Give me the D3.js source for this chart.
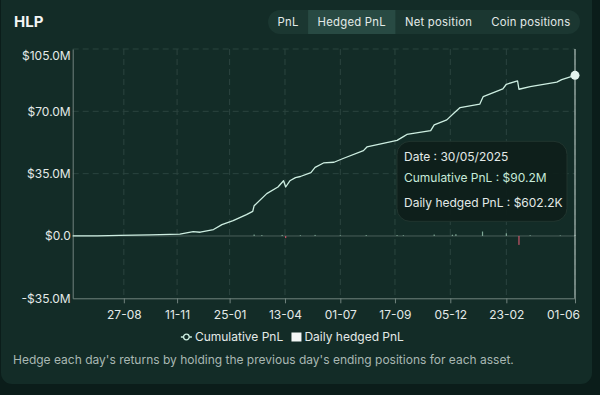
<!DOCTYPE html>
<html>
<head>
<meta charset="utf-8">
<script src="https://cdn.jsdelivr.net/npm/d3@7"></script>
<style>
  html, body { margin: 0; padding: 0; background: #0b1d1a; }
  svg { display: block; font-family: Inter, "Noto Sans", sans-serif; }
</style>
</head>
<body>
<svg id="chart" width="600" height="395"></svg>
<script>
// cumulative hedged pnl, $M
const cumDates = ['2023-06-15', '2023-07-20', '2023-08-21', '2023-10-03', '2023-11-15', '2023-12-04',
    '2023-12-14', '2024-01-02', '2024-01-14', '2024-01-30', '2024-02-18', '2024-02-27', '2024-02-29',
    '2024-03-18', '2024-04-03', '2024-04-11', '2024-04-14', '2024-04-20', '2024-04-28', '2024-05-05',
    '2024-05-20', '2024-05-26', '2024-06-07', '2024-06-22', '2024-07-05', '2024-08-03', '2024-08-08',
    '2024-09-20', '2024-09-29', '2024-10-04', '2024-11-07', '2024-11-12', '2024-11-30', '2024-12-10',
    '2024-12-19', '2025-01-16', '2025-01-21', '2025-02-18', '2025-02-23', '2025-03-11', '2025-03-13',
    '2025-03-29', '2025-05-06', '2025-05-13', '2025-06-01']
const cumValues = [0, 0.1, 0.3, 0.6, 1.0, 2.4,
    2.1, 3.6, 6.4, 8.6, 12.0, 13.8, 17.0,
    23.8, 27.5, 31.0, 27.5, 31.0, 32.8, 33.4,
    35.6, 38.5, 41.0, 41.4, 43.5, 47.9, 50.0,
    53.7, 55.8, 57.0, 59.2, 62.4, 65.2, 68.9,
    72.1, 74.0, 78.3, 82.6, 85.2, 87.1, 82.4,
    83.9, 86.4, 87.8, 90.2]

// daily hedged pnl, $M (only the visible ones)
const barDates = ['2024-02-29', '2024-03-11', '2024-04-09', '2024-04-14', '2024-05-05', '2024-05-26',
    '2024-07-01', '2024-08-07', '2024-09-20', '2024-09-29', '2024-11-12', '2024-12-08', '2024-12-13',
    '2025-01-20', '2025-02-23', '2025-03-13', '2025-03-29', '2025-05-11', '2025-06-01']
const barValues = [0.8, 0.5, 0.6, -1.2, 0.4, 0.6,
    0.4, 0.5, 0.5, 0.4, 0.8, 0.7, 1.0,
    2.5, 1.5, -5.0, 0.4, 0.3, 0.6]

const xTickDates = ['2023-08-27', '2023-11-11', '2024-01-25', '2024-04-13', '2024-07-01',
    '2024-09-17', '2024-12-05', '2025-02-23', '2025-06-01']
const yTickValues = [-35, 0, 35, 70, 105]
const tabs = ['PnL', 'Hedged PnL', 'Net position', 'Coin positions']
const activeTab = 'Hedged PnL'
const tooltipLines = ['Date : 30/05/2025', 'Cumulative PnL : $90.2M', 'Daily hedged PnL : $602.2K']
const footnote = "Hedge each day's returns by holding the previous day's ending positions for each asset."

const colours = {
    panel: '#132c27',
    line: '#cdeee1',
    grid: '#2b443f',
    axis: '#71837e',
    text: '#e3eae8',
    muted: '#a9b8b3',
    pos: '#7fa896',
    neg: '#c8566a'
}

const parse = d3.utcParse('%Y-%m-%d')
const fmtTick = d3.utcFormat('%d-%m')
const cum = cumDates.map((d, i) => ({date: parse(d), value: cumValues[i]}))
const bars = barDates.map((d, i) => ({date: parse(d), value: barValues[i]}))

const svg = d3.select('#chart')

svg.append('rect')
    .attr('x', 1).attr('y', -12)
    .attr('width', 591).attr('height', 396)
    .attr('rx', 11)
    .attr('fill', colours.panel)

svg.append('text')
    .attr('x', 14).attr('y', 27)
    .attr('fill', '#f2f5f4')
    .attr('font-size', 15).attr('font-weight', 700)
    .text('HLP')

// tab buttons
const tabG = svg.append('g')
const pill = tabG.append('rect')
const tabItems = tabG.selectAll('g.tab')
    .data(tabs)
    .join('g')
    .attr('class', 'tab')
const tabBg = tabItems.append('rect')
const tabText = tabItems.append('text')
    .attr('font-size', 11.3)
    .attr('letter-spacing', 0.25)
    .attr('fill', colours.text)
    .attr('text-anchor', 'middle')
    .attr('dy', '0.35em')
    .text(d => d)

const pad = 9.5
const widths = tabText.nodes().map(n => n.getComputedTextLength() + 2 * pad)
const tabRight = 580
let tx = tabRight - d3.sum(widths)
const tabLeft = tx
tabItems.each(function(d, i) {
    d3.select(this).attr('transform', `translate(${tx},10)`)
    tx += widths[i]
})
tabBg.attr('width', (d, i) => widths[i]).attr('height', 24)
    .attr('fill', d => d == activeTab ? '#284a43' : 'none')
tabText.attr('x', (d, i) => widths[i] / 2).attr('y', 12)
pill.attr('x', tabLeft).attr('y', 10)
    .attr('width', tabRight - tabLeft).attr('height', 24)
    .attr('rx', 12)
    .attr('fill', '#1b3731')

// plot
const margin = {left: 72.7, right: 575, top: 49, bottom: 298.3}
const xScale = d3.scaleUtc()
    .domain([cum[0].date, cum[cum.length - 1].date])
    .range([margin.left, margin.right])
const yScale = d3.scaleLinear()
    .domain([-35, 105])
    .range([margin.bottom, margin.top])

const grid = svg.append('g')
grid.selectAll('line.hg')
    .data(yTickValues.filter(v => v > -35))
    .join('line')
    .attr('class', 'hg')
    .attr('x1', margin.left).attr('x2', margin.right)
    .attr('y1', d => yScale(d)).attr('y2', d => yScale(d))
    .attr('stroke', d => d == 0 ? '#4a5f5a' : colours.grid)
    .attr('stroke-dasharray', d => d == 0 ? null : '6 4')
grid.selectAll('line.vg')
    .data(xTickDates.map(parse))
    .join('line')
    .attr('class', 'vg')
    .attr('x1', d => xScale(d)).attr('x2', d => xScale(d))
    .attr('y1', margin.top).attr('y2', margin.bottom)
    .attr('stroke', colours.grid)
    .attr('stroke-dasharray', '6 4')

// axes
const xAxis = svg.append('g')
    .attr('transform', `translate(0,${margin.bottom})`)
    .call(d3.axisBottom(xScale)
        .tickValues(xTickDates.map(parse))
        .tickFormat(fmtTick)
        .tickSize(5)
        .tickPadding(7)
        .tickSizeOuter(0))
xAxis.select('.domain').attr('stroke', colours.axis)
xAxis.selectAll('.tick line').attr('stroke', colours.axis)
xAxis.selectAll('.tick text')
    .attr('fill', colours.text)
    .attr('font-size', 12)
    .attr('font-family', 'Inter, sans-serif')
xAxis.selectAll('.tick:last-of-type text').attr('dx', -12)

const yAxis = svg.append('g')
    .attr('transform', `translate(${margin.left},0)`)
    .call(d3.axisLeft(yScale)
        .tickValues(yTickValues)
        .tickFormat(v => (v < 0 ? '-$' : '$') + (v == 0 ? '0.0' : Math.abs(v).toFixed(1) + 'M'))
        .tickSize(0)
        .tickPadding(2)
        .tickSizeOuter(0))
yAxis.select('.domain').attr('stroke', colours.axis)
yAxis.selectAll('.tick text')
    .attr('fill', colours.text)
    .attr('font-size', 12)
    .attr('font-family', 'Inter, sans-serif')
    .attr('dy', d => d == 105 ? '0.85em' : '0.32em')

// daily bars
svg.append('g')
    .selectAll('rect.bar')
    .data(bars)
    .join('rect')
    .attr('class', 'bar')
    .attr('x', d => xScale(d.date) - 0.6)
    .attr('width', 1.2)
    .attr('y', d => Math.min(yScale(d.value), yScale(0)))
    .attr('height', d => Math.abs(yScale(d.value) - yScale(0)))
    .attr('fill', d => d.value < 0 ? colours.neg : colours.pos)

// cumulative line
svg.append('path')
    .datum(cum)
    .attr('fill', 'none')
    .attr('stroke', colours.line)
    .attr('stroke-width', 1.3)
    .attr('stroke-linejoin', 'round')
    .attr('d', d3.line().x(d => xScale(d.date)).y(d => yScale(d.value)))

// hover cursor + active point
const last = cum[cum.length - 1]
svg.append('line')
    .attr('x1', xScale(last.date)).attr('x2', xScale(last.date))
    .attr('y1', margin.top).attr('y2', margin.bottom)
    .attr('stroke', '#c9d6d2')
    .attr('stroke-width', 1)
svg.append('circle')
    .attr('cx', xScale(last.date)).attr('cy', yScale(last.value))
    .attr('r', 4.5)
    .attr('fill', '#e4f4ee')

// tooltip
const tip = svg.append('g')
    .attr('transform', `translate(${xScale(last.date) - 178},${yScale(last.value) + 66})`)
tip.append('rect')
    .attr('width', 170).attr('height', 80)
    .attr('rx', 13)
    .attr('fill', '#0e1f1b')
    .attr('fill-opacity', 0.94)
    .attr('stroke', '#21352f')
tip.selectAll('text')
    .data(tooltipLines)
    .join('text')
    .attr('x', 7)
    .attr('y', (d, i) => [20, 41, 66][i])
    .attr('font-size', 12)
    .attr('fill', (d, i) => i == 1 ? '#c6ead9' : colours.text)
    .text(d => d)

// legend
const legend = svg.append('g')
const lg1 = legend.append('g')
lg1.append('line').attr('x1', 0).attr('x2', 11).attr('y1', 0).attr('y2', 0)
    .attr('stroke', colours.line).attr('stroke-width', 1.5)
lg1.append('circle').attr('cx', 5.5).attr('cy', 0).attr('r', 2.8)
    .attr('fill', colours.panel).attr('stroke', colours.line).attr('stroke-width', 1.3)
lg1.append('text').attr('x', 14).attr('dy', '0.35em')
    .attr('font-size', 12).attr('fill', colours.text).text('Cumulative PnL')
const lg2 = legend.append('g')
lg2.append('rect').attr('x', 0).attr('y', -4.5).attr('width', 10).attr('height', 9)
    .attr('fill', '#f4f7f6')
lg2.append('text').attr('x', 13).attr('dy', '0.35em')
    .attr('font-size', 12).attr('fill', colours.text).text('Daily hedged PnL')
const w1 = lg1.node().getBBox().width
const w2 = lg2.node().getBBox().width
const lgX = 292.5 - (w1 + 8 + w2) / 2
lg1.attr('transform', `translate(${lgX},337)`)
lg2.attr('transform', `translate(${lgX + w1 + 8},337)`)

svg.append('text')
    .attr('x', 13).attr('y', 364)
    .attr('font-size', 12)
    .attr('fill', colours.muted)
    .text(footnote)
</script>
</body>
</html>
